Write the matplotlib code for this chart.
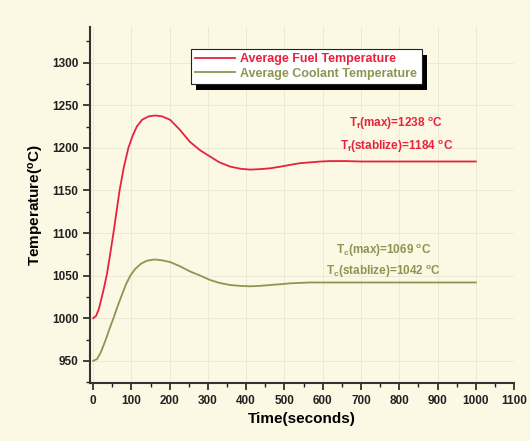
import matplotlib
matplotlib.use('Agg')
import matplotlib.pyplot as plt
from matplotlib.patches import Rectangle
import numpy as np

plt.rcParams['font.family'] = 'Liberation Sans'
plt.rcParams['font.weight'] = 'bold'
plt.rcParams['mathtext.fontset'] = 'custom'
plt.rcParams['mathtext.rm'] = 'Liberation Sans:bold'
plt.rcParams['mathtext.it'] = 'Liberation Sans:bold'
plt.rcParams['mathtext.bf'] = 'Liberation Sans:bold'

# data
t_fuel = [0, 8, 15, 21, 28, 36, 44, 53, 61, 69, 80, 92, 103, 114, 128, 145, 162,
          180, 201, 225, 253, 280, 305, 330, 358, 385, 410, 435, 462, 490, 514,
          540, 567, 595, 619, 660, 700, 800, 900, 1000]
fuel = [1000, 1003, 1011, 1022, 1035, 1052, 1074, 1100, 1125, 1150, 1177, 1200,
        1214, 1225, 1233, 1237, 1238, 1237, 1233, 1222, 1207, 1197, 1190, 1183,
        1178, 1175.5, 1174.5, 1175, 1176, 1178, 1180, 1182, 1183, 1184, 1184.5,
        1184.5, 1184, 1184, 1184, 1184]

t_cool = [0, 10, 20, 33, 43, 53, 63, 73, 85, 97, 110, 125, 140, 160, 180, 201,
          227, 253, 280, 305, 330, 358, 385, 410, 435, 462, 490, 514, 540, 567,
          619, 700, 800, 900, 1000]
cool = [950, 952, 960, 975, 988, 1000, 1013, 1025, 1039, 1050, 1058, 1064,
        1067.5, 1069, 1068, 1066, 1061, 1055, 1050, 1045, 1041.5, 1039, 1038,
        1037.5, 1038, 1039, 1040, 1041, 1041.5, 1042, 1042, 1042, 1042, 1042,
        1042]

red = '#e8223c'
olive = '#8c9650'
bg = '#fbf8e4'

fig = plt.figure(figsize=(5.3, 4.41), dpi=100, facecolor=bg)
ax = fig.add_axes([0.170, 0.1315, 0.80, 0.8075], facecolor=bg)

ax.plot(t_fuel, fuel, color=red, lw=1.3, label='Average Fuel Temperature')
ax.plot(t_cool, cool, color=olive, lw=1.3, label='Average Coolant Temperature')

ax.set_xlim(-8, 1100)
ax.set_ylim(924, 1342)
ax.set_xticks(np.arange(0, 1101, 100))
ax.set_yticks(np.arange(950, 1301, 50))
ax.set_xticks(np.arange(50, 1100, 100), minor=True)
ax.set_yticks(np.arange(925, 1340, 50), minor=True)
ax.tick_params(which='major', direction='out', length=5, width=1.2, labelsize=8.5, colors='#222222')
ax.tick_params(which='minor', direction='out', length=3, width=1.0, colors='#222222')
ax.grid(True, color='#ece9d6', lw=0.7)

for s in ['top', 'right']:
    ax.spines[s].set_visible(False)
for s in ['left', 'bottom']:
    ax.spines[s].set_linewidth(1.5)
    ax.spines[s].set_color('#333333')

ax.set_xlabel('Time(seconds)', fontsize=11, fontweight='bold', labelpad=4)
ax.set_ylabel('Temperature($^{\\rm o}$C)', fontsize=11, fontweight='bold', labelpad=4)

leg = ax.legend(loc='upper left', bbox_to_anchor=(0.238, 0.938), fontsize=9,
                frameon=True, fancybox=False, framealpha=1, facecolor='white',
                edgecolor='#222222', handlelength=3.2, borderpad=0.35,
                labelspacing=0.2, handletextpad=0.4, borderaxespad=0)
leg.get_frame().set_linewidth(0.8)
leg.set_zorder(6)
for txt, c in zip(leg.get_texts(), [red, olive]):
    txt.set_color(c)

# shadow behind the legend box
fig.canvas.draw()
bb = leg.get_window_extent().transformed(fig.transFigure.inverted())
ax.add_patch(Rectangle((bb.x0 + 5 / 530, bb.y0 - 6 / 441), bb.width, bb.height,
                       transform=fig.transFigure, facecolor='black',
                       edgecolor='none', zorder=5, clip_on=False))

ax.text(792, 1228, 'T$_{\\rm f}$(max)=1238 $^{\\rm o}$C', color=red, fontsize=8.5,
        ha='center', va='center')
ax.text(792, 1202, 'T$_{\\rm f}$(stablize)=1184 $^{\\rm o}$C', color=red, fontsize=8.5,
        ha='center', va='center')
ax.text(760, 1080, 'T$_{\\rm c}$(max)=1069 $^{\\rm o}$C', color=olive, fontsize=8.5,
        ha='center', va='center')
ax.text(760, 1055, 'T$_{\\rm c}$(stablize)=1042 $^{\\rm o}$C', color=olive, fontsize=8.5,
        ha='center', va='center')

fig.savefig('out.png', dpi=100, facecolor=bg)
